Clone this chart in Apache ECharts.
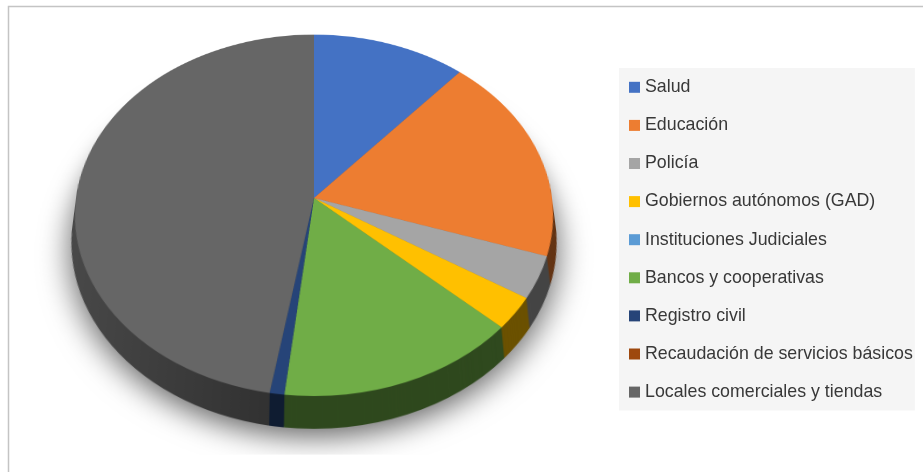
<!DOCTYPE html>
<html>
<head>
<meta charset="utf-8">
<script src="https://cdn.jsdelivr.net/npm/echarts@6/dist/echarts.min.js"></script>
<style>
  html, body { margin: 0; padding: 0; width: 923px; height: 472px; overflow: hidden; background: #ffffff; }
  #pie { position: absolute; left: 14px; top: -102px; width: 600px; height: 600px;
         transform-origin: 300px 300px; transform: perspective(1634px) rotateX(41.2deg); z-index: 1; }
  #legend { position: absolute; left: 0; top: 0; width: 923px; height: 472px; z-index: 2; }
</style>
</head>
<body>
<div id="pie"></div>
<div id="legend"></div>
<script>
// ---- data (percent of responses) ----
const categories = [
  'Salud',
  'Educación',
  'Policía',
  'Gobiernos autónomos (GAD)',
  'Instituciones Judiciales',
  'Bancos y cooperativas',
  'Registro civil',
  'Recaudación de servicios básicos',
  'Locales comerciales y tiendas'
];
const values = [11.4, 18.7, 3.8, 2.9, 0, 15.0, 0.9, 0, 47.3];
const colors = ['#4472C4', '#ED7D31', '#A5A5A5', '#FFC000', '#5B9BD5', '#70AD47', '#264478', '#9E480E', '#666666'];

// ---- helpers ----
function shade(hex, f) {
  const n = parseInt(hex.slice(1), 16);
  const r = Math.round(((n >> 16) & 255) * f);
  const g = Math.round(((n >> 8) & 255) * f);
  const b = Math.round((n & 255) * f);
  return 'rgb(' + r + ',' + g + ',' + b + ')';
}
function sideColor(hex, i) {
  if (i === categories.length - 1) {
    return { type: 'linear', x: 0, y: 0, x2: 1, y2: 0,
      colorStops: [{ offset: 0, color: shade(hex, 0.72) }, { offset: 1, color: shade(hex, 0.44) }] };
  }
  return shade(hex, 0.42);
}

const R = 238, CX = 300, CY = 300, DEPTH = 35;
const base = {
  type: 'pie', radius: [0, R], startAngle: 90, clockwise: true,
  label: { show: false }, labelLine: { show: false },
  emphasis: { disabled: true }, silent: true, animation: false
};

const series = [];
// soft shadow under the cake
series.push(Object.assign({}, base, {
  center: [CX, CY + 30],
  data: [{ name: 'shadow', value: 1, itemStyle: { color: '#555555', shadowBlur: 30, shadowColor: 'rgba(0,0,0,0.6)', shadowOffsetY: 14 } }]
}));
// side walls: stacked darker copies
for (let d = DEPTH; d >= 1; d--) {
  series.push(Object.assign({}, base, {
    center: [CX, CY + d],
    data: categories.map((n, i) => ({ name: n, value: values[i], itemStyle: { color: sideColor(colors[i], i) } }))
  }));
}
// top face
series.push(Object.assign({}, base, {
  center: [CX, CY],
  data: categories.map((n, i) => ({ name: n, value: values[i], itemStyle: { color: colors[i] } }))
}));

const pie = echarts.init(document.getElementById('pie'), null, { devicePixelRatio: 2 });
pie.setOption({ animation: false, series: series });

// legend + frame
const leg = echarts.init(document.getElementById('legend'));
leg.setOption({
  animation: false,
  graphic: [{
    type: 'rect', silent: true,
    shape: { x: 8.5, y: 6.5, width: 1000, height: 1000 },
    style: { fill: 'none', stroke: '#c4c4c4', lineWidth: 1.5 }
  }],
  legend: {
    orient: 'vertical', left: 619, top: 68,
    padding: [10.3, 2, 9.3, 10],
    backgroundColor: '#f5f5f5',
    icon: 'rect', itemWidth: 11, itemHeight: 11, itemGap: 20.1,
    selectedMode: false,
    data: categories,
    textStyle: { fontFamily: 'Liberation Sans', fontSize: 17.8, lineHeight: 18, color: '#383838' }
  },
  series: [{
    type: 'pie', radius: [0, 0.01], center: [-300, -300], silent: true,
    label: { show: false }, labelLine: { show: false },
    data: categories.map((n, i) => ({ name: n, value: values[i], itemStyle: { color: colors[i] } }))
  }]
});
</script>
</body>
</html>
